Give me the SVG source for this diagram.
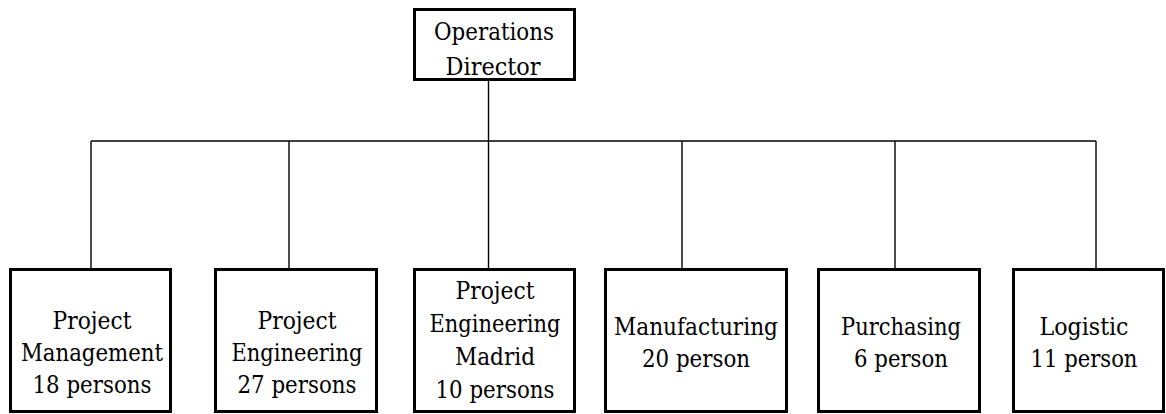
<svg xmlns="http://www.w3.org/2000/svg" width="1166" height="414" viewBox="0 0 1166 414">
<style>
.box{fill:#fff;stroke:#000;stroke-width:3}
.ln{stroke:#000;stroke-width:1.4;fill:none}
text{font-family:"DejaVu Serif","Liberation Serif",serif;font-size:24.5px;fill:#000;text-anchor:middle}
</style>
<rect width="1166" height="414" fill="#fff"/>
<g id="connectors">
<line class="ln" x1="488.5" y1="81" x2="488.5" y2="268"/>
<line class="ln" x1="91" y1="141" x2="1096" y2="141"/>
<line class="ln" x1="91" y1="141" x2="91" y2="268"/>
<line class="ln" x1="289" y1="141" x2="289" y2="268"/>
<line class="ln" x1="682" y1="141" x2="682" y2="268"/>
<line class="ln" x1="895" y1="141" x2="895" y2="268"/>
<line class="ln" x1="1096" y1="141" x2="1096" y2="268"/>
</g>
<g id="director">
<rect class="box" x="414.5" y="9.5" width="160" height="70"/>
<text x="494" y="40" textLength="120" lengthAdjust="spacingAndGlyphs">Operations</text>
<text x="493" y="75" textLength="95" lengthAdjust="spacingAndGlyphs">Director</text>
</g>
<g id="project-management">
<rect class="box" x="10.5" y="269.5" width="160" height="142"/>
<text x="92" y="329" textLength="79" lengthAdjust="spacingAndGlyphs">Project</text>
<text x="92" y="361" textLength="142" lengthAdjust="spacingAndGlyphs">Management</text>
<text x="92" y="393" textLength="119" lengthAdjust="spacingAndGlyphs">18 persons</text>
</g>
<g id="project-engineering">
<rect class="box" x="215.5" y="269.5" width="161" height="142"/>
<text x="297" y="329" textLength="79" lengthAdjust="spacingAndGlyphs">Project</text>
<text x="297" y="361" textLength="131" lengthAdjust="spacingAndGlyphs">Engineering</text>
<text x="297" y="393" textLength="119" lengthAdjust="spacingAndGlyphs">27 persons</text>
</g>
<g id="project-engineering-madrid">
<rect class="box" x="414.5" y="269.5" width="160" height="142"/>
<text x="495" y="299" textLength="79" lengthAdjust="spacingAndGlyphs">Project</text>
<text x="495" y="332" textLength="131" lengthAdjust="spacingAndGlyphs">Engineering</text>
<text x="495" y="365" textLength="80" lengthAdjust="spacingAndGlyphs">Madrid</text>
<text x="495" y="398" textLength="119" lengthAdjust="spacingAndGlyphs">10 persons</text>
</g>
<g id="manufacturing">
<rect class="box" x="605.5" y="269.5" width="181" height="142"/>
<text x="696" y="335" textLength="164" lengthAdjust="spacingAndGlyphs">Manufacturing</text>
<text x="696" y="367" textLength="108" lengthAdjust="spacingAndGlyphs">20 person</text>
</g>
<g id="purchasing">
<rect class="box" x="818.5" y="269.5" width="161" height="142"/>
<text x="901" y="335" textLength="120" lengthAdjust="spacingAndGlyphs">Purchasing</text>
<text x="901" y="367" textLength="94" lengthAdjust="spacingAndGlyphs">6 person</text>
</g>
<g id="logistic">
<rect class="box" x="1013.5" y="269.5" width="150" height="142"/>
<text x="1084" y="335" textLength="89" lengthAdjust="spacingAndGlyphs">Logistic</text>
<text x="1084" y="367" textLength="107" lengthAdjust="spacingAndGlyphs">11 person</text>
</g>
</svg>
